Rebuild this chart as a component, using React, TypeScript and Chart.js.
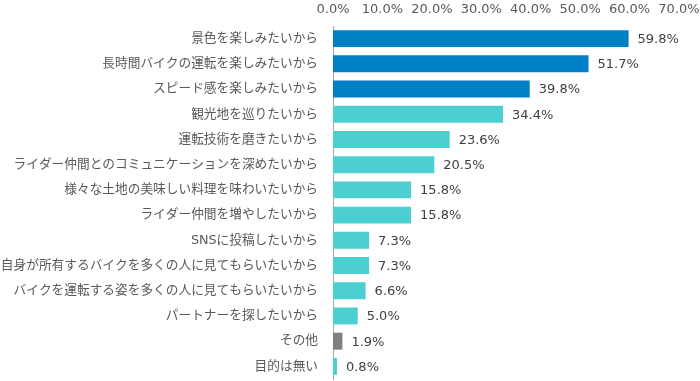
import React, { useEffect, useRef } from "react";
import { Chart, registerables } from "chart.js";

Chart.register(...registerables);

const categories = [
  "景色を楽しみたいから",
  "長時間バイクの運転を楽しみたいから",
  "スピード感を楽しみたいから",
  "観光地を巡りたいから",
  "運転技術を磨きたいから",
  "ライダー仲間とのコミュニケーションを深めたいから",
  "様々な土地の美味しい料理を味わいたいから",
  "ライダー仲間を増やしたいから",
  "SNSに投稿したいから",
  "自身が所有するバイクを多くの人に見てもらいたいから",
  "バイクを運転する姿を多くの人に見てもらいたいから",
  "パートナーを探したいから",
  "その他",
  "目的は無い",
];
const values = [59.8, 51.7, 39.8, 34.4, 23.6, 20.5, 15.8, 15.8, 7.3, 7.3, 6.6, 5.0, 1.9, 0.8];
const barColors = [
  "#0080C6", "#0080C6", "#0080C6",
  "#4BCFD0", "#4BCFD0", "#4BCFD0", "#4BCFD0", "#4BCFD0", "#4BCFD0",
  "#4BCFD0", "#4BCFD0", "#4BCFD0",
  "#808080",
  "#4BCFD0",
];

const NUM_FONT = "'DejaVu Sans', sans-serif";
const LABEL_FONT = "'DejaVu Sans', 'Noto Sans CJK JP', sans-serif";

const valueLabels = {
  id: "valueLabels",
  afterDatasetsDraw(chart: any) {
    const ctx = chart.ctx;
    const meta = chart.getDatasetMeta(0);
    ctx.save();
    ctx.font = `13px ${NUM_FONT}`;
    ctx.fillStyle = "#404040";
    ctx.textAlign = "left";
    ctx.textBaseline = "middle";
    meta.data.forEach((bar: any, i: number) => {
      ctx.fillText(values[i].toFixed(1) + "%", bar.x + 9, bar.y + 1);
    });
    ctx.restore();
  },
};

export default function App() {
  const ref = useRef<HTMLCanvasElement | null>(null);
  useEffect(() => {
    document.body.style.margin = "0";
    const chart = new Chart(ref.current!, {
      type: "bar",
      data: {
        labels: categories,
        datasets: [
          {
            data: values,
            backgroundColor: barColors,
            barPercentage: 0.67,
            categoryPercentage: 1,
          },
        ],
      },
      options: {
        indexAxis: "y",
        animation: false,
        responsive: false,
        layout: { padding: { left: 0, right: 21, top: 0, bottom: 2 } },
        plugins: { legend: { display: false }, tooltip: { enabled: false } },
        scales: {
          x: {
            position: "top",
            min: 0,
            max: 70,
            grid: { display: false, drawTicks: false },
            border: { display: false },
            ticks: {
              stepSize: 10,
              padding: 9,
              color: "#595959",
              font: { size: 13, family: NUM_FONT },
              callback: (v: any) => Number(v).toFixed(1) + "%",
            },
            afterFit(scale: any) {
              scale.height = 26;
              scale.paddingLeft = 0;
              scale.paddingRight = 0;
            },
          },
          y: {
            grid: { display: false, drawTicks: false },
            border: { display: true, color: "#A6A6A6", width: 1 },
            ticks: {
              padding: 15,
              color: "#595959",
              font: { size: 12.7, family: LABEL_FONT },
              autoSkip: false,
            },
            afterFit(scale: any) {
              scale.width = 333;
              scale.paddingTop = 0;
              scale.paddingBottom = 0;
            },
          },
        },
      },
      plugins: [valueLabels],
    });
    return () => chart.destroy();
  }, []);
  return (
    <div style={{ width: 700, height: 381 }}>
      <canvas ref={ref} width={700} height={381} />
    </div>
  );
}
